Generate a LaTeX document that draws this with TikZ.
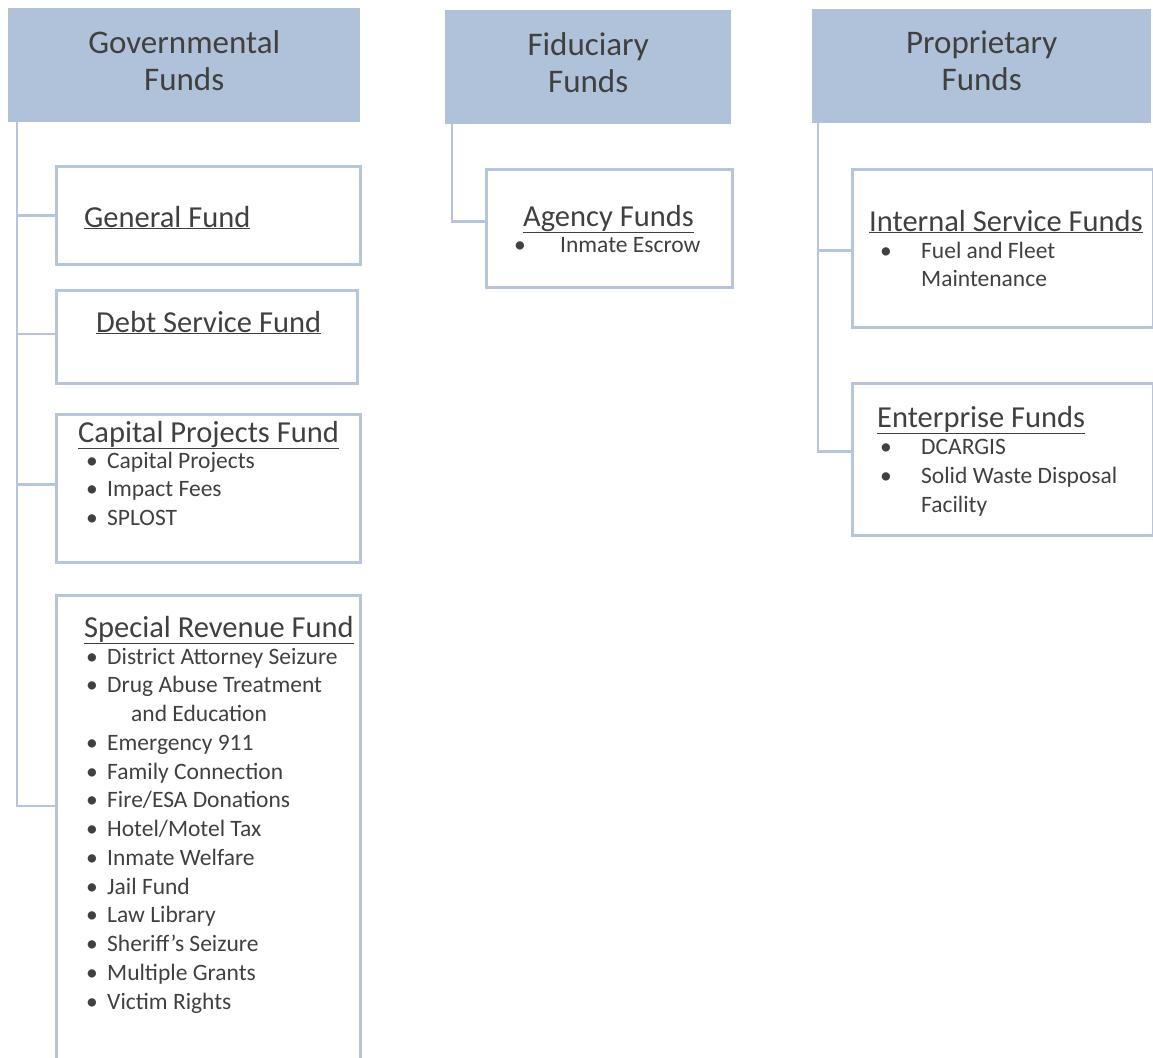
\documentclass[tikz,border=0pt]{standalone}
\usepackage{fontspec}
\setmainfont{Carlito}
\definecolor{hdrblue}{HTML}{B0C1DA}
\definecolor{lineblue}{HTML}{B6C5DD}
\definecolor{txtgray}{HTML}{404040}

\begin{document}
\begin{tikzpicture}[x=1pt, y=-1pt,
  header/.style={fill=hdrblue, anchor=north west, inner sep=0pt},
  hdrtext/.style={align=center, text=txtgray, inner sep=0pt,
    font=\fontsize{33}{37}\selectfont},
  fundbox/.style={draw=lineblue, line width=2.6pt, anchor=north west, inner sep=0pt},
  title/.style={anchor=base west, inner sep=0pt, text=txtgray,
    font=\fontsize{30.5}{34}\selectfont},
  item/.style={anchor=base west, inner sep=0pt, text=txtgray,
    font=\fontsize{23.5}{28}\selectfont},
  link/.style={draw=lineblue, line width=2.6pt}]

\useasboundingbox (0,0) rectangle (1153,1057);

%--- Headers ---
\node[header, minimum width=352, minimum height=114] (gov)  at (8,8)   {};
\node[header, minimum width=286, minimum height=114] (fid)  at (445,10) {};
\node[header, minimum width=339, minimum height=114] (prop) at (812,9) {};
\node[hdrtext] (govtxt)  at ([yshift=5pt]gov.center)  {Governmental\\Funds};
\node[hdrtext] (fidtxt)  at ([yshift=5pt]fid.center)  {Fiduciary\\Funds};
\node[hdrtext] (proptxt) at ([yshift=5pt]prop.center) {Proprietary\\Funds};

%--- Boxes ---
\node[fundbox, minimum width=304, minimum height=98]  (gen)  at (55,165) {};
\node[fundbox, minimum width=301, minimum height=93]  (debt) at (55,289) {};
\node[fundbox, minimum width=304, minimum height=148] (cap)  at (55,413) {};
\node[fundbox, minimum width=304, minimum height=480] (spc)  at (55,594) {};
\node[fundbox, minimum width=246, minimum height=118] (agy)  at (485,168) {};
\node[fundbox, minimum width=301, minimum height=158] (isf)  at (851,168) {};
\node[fundbox, minimum width=301, minimum height=152] (ent)  at (851,382) {};

%--- Connectors ---
\coordinate (govtrunk)  at (17,122);
\coordinate (spcjoin)   at (55,806);
\coordinate (fidtrunk)  at (452,124);
\coordinate (proptrunk) at (818,123);
\foreach \dst/\dy in {gen.west/0,debt.west/3,cap.west/4}
  \draw[link] (govtrunk) |- ([yshift=\dy pt]\dst);
\draw[link] (govtrunk) |- (spcjoin);
\draw[link] (fidtrunk) |- ([yshift=7pt]agy.west);
\draw[link] (proptrunk) |- ([yshift=-2pt]isf.west);
\draw[link] (proptrunk) |- ([yshift=8pt]ent.west);

%--- Titles ---
\node[title] (gentitle)  at (84,227)  {\underline{General Fund}};
\node[title] (debttitle) at (96,332)  {\underline{Debt Service Fund}};
\node[title] (captitle)  at (78,442)  {\underline{Capital Projects Fund}};
\node[title] (spctitle)  at (84,637)  {\underline{Special Revenue Fund}};
\node[title] (agytitle)  at (523,226) {\underline{Agency Funds}};
\node[title] (isftitle)  at (869,231) {\underline{Internal Service Funds}};
\node[title] (enttitle)  at (877,427) {\underline{Enterprise Funds}};

%--- Capital projects items ---
\def\bul{\makebox[21pt][l]{\textbullet}}
\foreach \t [count=\i] in {Capital Projects,Impact Fees,SPLOST}
  \node[item] (cap\i) at (86,{468+28.7*(\i-1)}) {\bul\t};

%--- Special revenue items ---
\foreach \xp/\t [count=\i] in {86/{\bul District Attorney Seizure},
    86/{\bul Drug Abuse Treatment}, 131/{and Education},
    86/{\bul Emergency 911}, 86/{\bul Family Connection},
    86/{\bul Fire/ESA Donations}, 86/{\bul Hotel/Motel Tax},
    86/{\bul Inmate Welfare}, 86/{\bul Jail Fund}, 86/{\bul Law Library},
    86/{\bul Sheriff’s Seizure}, 86/{\bul Multiple Grants},
    86/{\bul Victim Rights}}
  \node[item] (spc\i) at (\xp,{664+28.75*(\i-1)}) {\t};

%--- Fiduciary / proprietary items ---
\def\bulw{\makebox[41pt][l]{\textbullet}}
\node[item] (agy1) at (514,252) {\makebox[46pt][l]{\textbullet}Inmate Escrow};
\node[item] (isf1) at (880,258) {\bulw Fuel and Fleet};
\node[item] (isf2) at (921,286) {Maintenance};
\node[item] (ent1) at (880,454) {\bulw DCARGIS};
\node[item] (ent2) at (880,483) {\bulw Solid Waste Disposal};
\node[item] (ent3) at (921,512) {Facility};

\end{tikzpicture}
\end{document}
